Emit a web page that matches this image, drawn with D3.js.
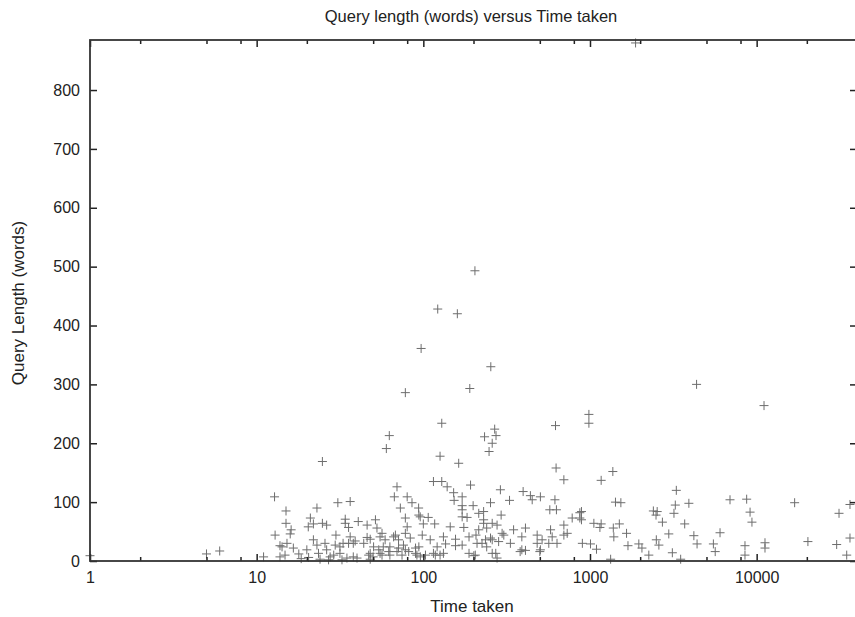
<!DOCTYPE html>
<html>
<head>
<meta charset="utf-8">
<script src="https://cdn.jsdelivr.net/npm/d3@7"></script>
<style>
  body { margin: 0; background: #fff; }
  text { font-family: "Liberation Sans", Arial, sans-serif; fill: #222; }
</style>
</head>
<body>
<div id="chart"></div>
<script>
// time taken (x, log scale) and query length in words (y)
var timeTaken = [
  1, 5, 6, 11, 12.8, 24.8, 15, 23, 30.7, 15, 16.1, 15.9, 21, 20.4, 21.9, 24.8, 26.3, 12.9, 29.9, 13.8,
  15.2, 16.6, 17.9, 20, 21.9, 23, 23.5, 25.7, 26.3, 27.6, 13.8, 14.8, 29, 36.4, 34, 40.7, 46, 35.6, 36.4, 39,
  46, 14.2, 31.6, 35.6, 31.6, 38, 34.8, 47, 40, 18.5, 24, 27, 20.5,
  78, 190, 129, 62.5, 60, 233, 268, 273, 259, 248, 126, 163, 985, 985, 621, 626, 697, 115, 129, 139,
  152, 171, 192, 69.5, 67, 80, 85.5, 153, 171, 199, 253, 290, 329, 397, 439, 450, 504, 616, 574, 629,
  782, 869, 869, 72.8, 93.7, 171, 215, 230, 293, 34, 51.6, 52.7, 78, 80, 95.8, 107, 100, 117, 145, 175,
  183, 230, 240, 277, 297, 348, 410, 482, 580, 593, 697, 730, 29.6, 33, 38, 43.9, 48, 55, 50.3, 57.5,
  68, 71, 76, 83.5, 89.8, 98.5, 110, 132, 136, 156, 156, 171, 188, 207, 210, 236, 240, 283, 304, 333,
  390, 390, 482, 504, 566, 634, 32.5, 55, 62, 69.5, 74.5, 81.7, 89.8, 96, 115, 126, 132, 188, 201, 272,
  277, 381, 410, 500, 48, 50,
  94, 171, 230, 215, 259, 56.5, 59, 66.3, 78, 225, 259, 121, 54, 63, 71, 78, 94, 48, 56.5, 63, 91.5,
  103, 118, 205, 259, 253, 516, 697,
  204, 122, 160, 97, 254,
  4360, 11070, 1371, 1167, 3296, 1422, 1532, 3250, 3920, 6920, 8710, 9130, 9370, 16900, 36300, 31200,
  2400, 2530, 2490, 3190, 2720, 3700, 1055, 1167, 1147, 1380, 1500, 1390, 1657, 2970, 4200, 6030, 889,
  889, 900, 1007, 1094, 1690, 1963, 2050, 2254, 2500, 2590, 3120, 3500, 4390, 5500, 5640, 8510, 8510,
  11220, 11220, 20300, 30200, 36300, 34700, 1330, 1877
];
var queryLength = [
  9, 12, 17, 7, 109, 169, 85, 90, 99, 64, 53, 46, 73, 58, 63, 64, 61, 44, 44, 26,
  30, 22, 12, 19, 36, 27, 13, 30, 19, 7, 7, 10, 10, 101, 71, 67, 61, 57, 41, 34,
  40, 24, 24, 30, 13, 7, 5, 10, 5, 4, 3, 2, 6,
  286, 293, 234, 213, 191, 211, 224, 213, 200, 186, 178, 166, 249, 234, 230, 158, 138, 135, 135, 126,
  116, 109, 129, 126, 109, 109, 99, 103, 94, 94, 99, 121, 103, 118, 111, 104, 109, 104, 87, 87,
  73, 82, 73, 90, 90, 87, 81, 84, 78, 64, 70, 56, 73, 58, 75, 74, 63, 63, 58, 57,
  74, 64, 56, 61, 47, 53, 56, 44, 53, 41, 44, 47, 27, 30, 30, 30, 37, 41, 24, 24,
  44, 36, 27, 39, 22, 44, 36, 41, 29, 37, 26, 27, 41, 44, 30, 36, 24, 33, 44, 30,
  41, 19, 30, 19, 30, 30, 2, 13, 16, 16, 10, 16, 13, 7, 13, 10, 13, 13, 9, 13,
  5, 16, 18, 16, 3, 7,
  78, 75, 70, 53, 64, 47, 36, 41, 47, 30, 36, 24, 19, 24, 22, 19, 24, 13, 10, 10, 10,
  10, 10, 10, 13, 39, 36, 61,
  493, 428, 420, 361, 330,
  300, 264, 152, 137, 120, 100, 99, 95, 98, 104, 105, 83, 66, 99, 96, 81,
  85, 84, 78, 81, 66, 63, 64, 63, 57, 56, 63, 41, 47, 46, 43, 48, 84,
  70, 30, 29, 20, 26, 29, 22, 10, 36, 27, 14, 3, 29, 29, 16, 26, 10,
  31, 22, 33, 28, 39, 10, 3, 880
];

var xMajorTicks = [1, 10, 100, 1000, 10000];
var xMinorTicks = [2, 5, 8, 20, 50, 80, 200, 500, 800, 2000, 5000, 8000, 20000];
var yTicks = [0, 100, 200, 300, 400, 500, 600, 700, 800];

var width = 855, height = 617;
var margin = {top: 40, right: -2, bottom: 56, left: 90};
var innerW = width - margin.left - margin.right;
var innerH = height - margin.top - margin.bottom;

var points = timeTaken.map(function(t, i) { return {t: t, q: queryLength[i]}; });

var svg = d3.select("#chart").append("svg")
    .attr("width", width)
    .attr("height", height);

var x = d3.scaleLog().domain([1, 40000]).range([0, innerW]);
var y = d3.scaleLinear().domain([0, 885]).range([innerH, 0]);

var g = svg.append("g").attr("transform", "translate(" + margin.left + "," + margin.top + ")");

// points as plus signs
var s = 4.5;
var marks = g.append("g").attr("stroke", "#555").attr("stroke-width", 1).attr("opacity", 0.85);
marks.selectAll("path")
    .data(points)
    .enter()
    .append("path")
    .attr("d", function(d) {
        var px = x(d.t), py = y(d.q);
        return "M" + (px - s) + "," + py + "H" + (px + s) + "M" + px + "," + (py - s) + "V" + (py + s);
    });

// axes: ticks drawn inward, mirrored on top and right like gnuplot
var noLabel = function() { return ""; };
var xAxisBottom = d3.axisBottom(x).tickValues(xMajorTicks).tickSize(-7).tickPadding(11)
    .tickFormat(d3.format("d"));
var xAxisBottomMinor = d3.axisBottom(x).tickValues(xMinorTicks).tickSize(-4).tickFormat(noLabel);
var xAxisTop = d3.axisTop(x).tickValues(xMajorTicks).tickSize(-7).tickFormat(noLabel);
var xAxisTopMinor = d3.axisTop(x).tickValues(xMinorTicks).tickSize(-4).tickFormat(noLabel);
var yAxisLeft = d3.axisLeft(y).tickValues(yTicks).tickSize(-7).tickPadding(10);
var yAxisRight = d3.axisRight(y).tickValues(yTicks).tickSize(-7).tickFormat(noLabel);

function styleAxis(sel) {
    sel.select(".domain").remove();
    sel.selectAll(".tick line").attr("stroke", "#222").attr("stroke-width", 1.5);
    sel.selectAll(".tick text").attr("font-size", 16).attr("fill", "#222")
        .attr("font-family", "Liberation Sans, Arial, sans-serif");
}

g.append("g").attr("transform", "translate(0," + innerH + ")").call(xAxisBottom).call(styleAxis);
g.append("g").attr("transform", "translate(0," + innerH + ")").call(xAxisBottomMinor).call(styleAxis);
g.append("g").call(xAxisTop).call(styleAxis);
g.append("g").call(xAxisTopMinor).call(styleAxis);
g.append("g").call(yAxisLeft).call(styleAxis);
g.append("g").attr("transform", "translate(" + innerW + ",0)").call(yAxisRight).call(styleAxis);

// frame
g.append("rect")
    .attr("width", innerW).attr("height", innerH)
    .attr("fill", "none").attr("stroke", "#333").attr("stroke-width", 1.8);

// titles
svg.append("text")
    .attr("x", 471).attr("y", 22)
    .attr("text-anchor", "middle").attr("font-size", 16.5)
    .text("Query length (words) versus Time taken");

svg.append("text")
    .attr("x", 472).attr("y", 612)
    .attr("text-anchor", "middle").attr("font-size", 17)
    .text("Time taken");

svg.append("text")
    .attr("transform", "translate(24," + 303 + ") rotate(-90)")
    .attr("text-anchor", "middle").attr("font-size", 17)
    .text("Query Length (words)");
</script>
</body>
</html>
